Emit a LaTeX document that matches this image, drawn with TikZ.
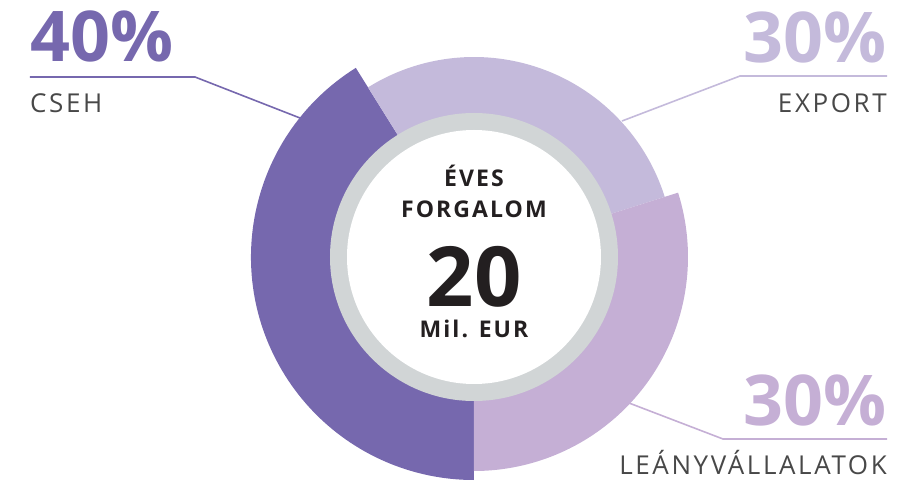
\documentclass[tikz,border=0pt]{standalone}
\usepackage{fontspec}
\setmainfont{Open Sans}
\usetikzlibrary{positioning}

\definecolor{csehpurple}{HTML}{7668AE}
\definecolor{exportlilac}{HTML}{C4BADB}
\definecolor{leanylilac}{HTML}{C5AFD5}
\definecolor{ringgray}{HTML}{D1D5D6}
\definecolor{labelgray}{HTML}{484848}
\definecolor{centerblack}{HTML}{231F20}

\begin{document}
\begin{tikzpicture}[x=1pt,y=1pt,
    pct/.style={font=\bfseries\fontsize{70}{70}\selectfont,inner sep=0pt},
    lbl/.style={font=\fontsize{26}{26}\selectfont\addfontfeature{LetterSpace=10},text=labelgray,inner sep=0pt},
    mid/.style={font=\bfseries\fontsize{23}{23}\selectfont\addfontfeature{LetterSpace=9},text=centerblack,inner sep=0pt,text height=17pt,text depth=0pt},
    leader/.style={line width=1.6pt}]
    \useasboundingbox (-474,-227) rectangle (423,257);

    % segments
    \fill[csehpurple] (0,0) -- (122:223) arc[start angle=122,end angle=270,radius=223] -- cycle;
    \fill[exportlilac] (0,0) -- (17.5:200) arc[start angle=17.5,end angle=122,radius=200] -- cycle;
    \fill[leanylilac] (0,0) -- (-90:214) arc[start angle=-90,end angle=17.5,radius=214] -- cycle;

    % hub
    \fill[ringgray] (0,0) circle[radius=144];
    \node[circle,fill=white,minimum size=254pt,inner sep=0pt] (hub) at (0,0) {};

    \node[mid,anchor=base] (eves) at (0,70) {ÉVES};
    \node[mid,anchor=base] (forgalom) at (0,39) {FORGALOM};
    \node[anchor=base,inner sep=0pt,text height=60pt,text depth=0pt,text=centerblack,font=\bfseries\fontsize{83}{83}\selectfont] (value) at (0,-50) {20};
    \node[mid,anchor=base] (unit) at (0,-81) {Mil. EUR};

    % labels
    \node[pct,text=csehpurple,anchor=base west] (cseh pct) at (-444,195) {40\%};
    \node[lbl,anchor=base west] (cseh) at (-444,144) {CSEH};
    \node[pct,text=exportlilac,anchor=base east] (export pct) at (413,194) {30\%};
    \node[lbl,anchor=base east] (export) at (413,144) {EXPORT};
    \node[pct,text=leanylilac,anchor=base east] (leany pct) at (413,-168) {30\%};
    \node[lbl,anchor=base east] (leany) at (413,-218) {LEÁNYVÁLLALATOK};

    % leaders
    \coordinate (cseh start) at (-444,180);
    \coordinate (cseh knee) at (-279,180);
    \coordinate (cseh tip) at (-174,139);
    \coordinate (export start) at (413,181);
    \coordinate (export knee) at (266,181);
    \coordinate (export tip) at (148,136);
    \coordinate (leany start) at (413,-182);
    \coordinate (leany knee) at (249,-182);
    \coordinate (leany tip) at (155,-146);

    \draw[leader,csehpurple] (cseh start) -- (cseh knee) -- (cseh tip);
    \draw[leader,exportlilac] (export start) -- (export knee) -- (export tip);
    \draw[leader,leanylilac] (leany start) -- (leany knee) -- (leany tip);
\end{tikzpicture}
\end{document}
